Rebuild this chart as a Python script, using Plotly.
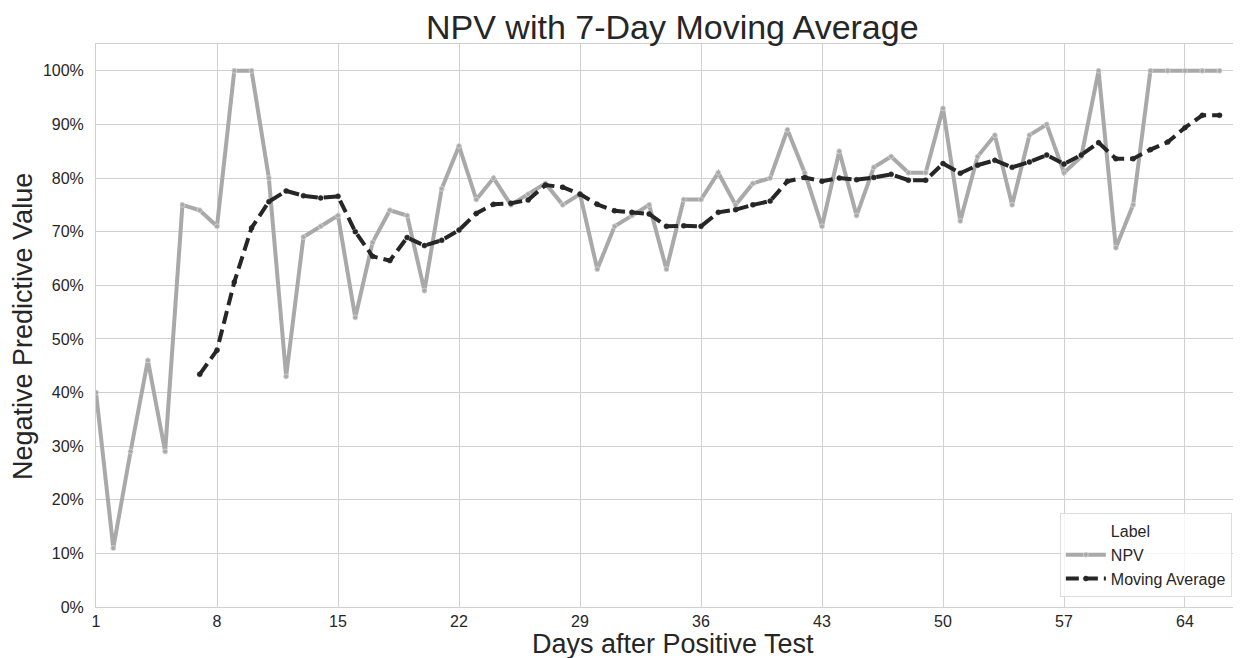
import plotly.graph_objects as go

days = list(range(1, 67))
npv = [40, 11, 29, 46, 29, 75, 74, 71, 100, 100,
       80, 43, 69, 71, 73, 54, 68, 74, 73, 59,
       78, 86, 76, 80, 75, 77, 79, 75, 77, 63,
       71, 73, 75, 63, 76, 76, 81, 75, 79, 80,
       89, 81, 71, 85, 73, 82, 84, 81, 81, 93,
       72, 84, 88, 75, 88, 90, 81, 84, 100, 67,
       75, 100, 100, 100, 100, 100]
ma_days = list(range(7, 67))
moving_avg = [43.4, 47.9, 60.6, 70.7, 75.6, 77.6, 76.7, 76.3, 76.6, 70.0,
              65.4, 64.6, 68.9, 67.4, 68.4, 70.3, 73.4, 75.1, 75.3, 75.9,
              78.7, 78.3, 77.0, 75.1, 73.9, 73.6, 73.3, 71.0, 71.1, 71.0,
              73.6, 74.1, 75.0, 75.7, 79.4, 80.1, 79.4, 80.0, 79.7, 80.1,
              80.7, 79.6, 79.6, 82.7, 80.9, 82.4, 83.3, 82.0, 83.0, 84.3,
              82.6, 84.3, 86.6, 83.6, 83.6, 85.3, 86.7, 89.4, 91.7, 91.7]
x_ticks = [1, 8, 15, 22, 29, 36, 43, 50, 57, 64]
y_ticks = [0, 10, 20, 30, 40, 50, 60, 70, 80, 90, 100]
y_tick_labels = ["0%", "10%", "20%", "30%", "40%", "50%",
                 "60%", "70%", "80%", "90%", "100%"]

FONT = "Liberation Sans, Arial, sans-serif"
TXT = "#262626"
GRID = "#d0d0d0"

fig = go.Figure()
fig.add_trace(go.Scatter(x=[None], y=[None], mode="lines", name="Label",
                         line=dict(width=0, color="rgba(0,0,0,0)"),
                         hoverinfo="skip"))
fig.add_trace(go.Scatter(
    x=days, y=npv, mode="lines+markers", name="NPV",
    line=dict(color="#a9a9a9", width=4),
    marker=dict(size=5, color="#a9a9a9", line=dict(color="#d8d8d8", width=0.8)),
))
fig.add_trace(go.Scatter(
    x=ma_days, y=moving_avg, mode="lines+markers", name="Moving Average",
    line=dict(color="#262626", width=4, dash="13px,6px"),
    marker=dict(size=5, color="#262626", line=dict(color="#262626", width=0.5)),
))

# The page body adds an 8px offset; work in page pixels and convert.
OFF = 8
W, H = 1241 - OFF, 658 - OFF
PL, PT, PB, PR = 96, 44, 607, 1241  # plot area edges in page pixels
L, T = PL - OFF, PT - OFF
B = H - (PB - OFF)
R = W - (PR - OFF)
pw, ph = W - L - R, H - T - B


def px_x(p):
    return (p - PL) / pw


def px_y(p):
    return (PB - p) / ph


fig.update_layout(
    width=W, height=H,
    margin=dict(l=L, r=R, t=T, b=B, autoexpand=False),
    plot_bgcolor="white", paper_bgcolor="white",
    font=dict(family=FONT, color=TXT, size=16),
    showlegend=True,
    legend=dict(
        x=0.992, xanchor="right", y=px_y(597), yanchor="bottom",
        bgcolor="rgba(255,255,255,0.8)", bordercolor="#dddddd", borderwidth=1,
        font=dict(size=16, color=TXT, family=FONT),
        itemwidth=40, tracegroupgap=0,
    ),
    xaxis=dict(
        range=[1, 67.24], tickvals=x_ticks, ticktext=[str(v) for v in x_ticks],
        showgrid=True, gridcolor=GRID, gridwidth=1,
        showline=True, linecolor=GRID, linewidth=1, mirror=True,
        zeroline=False, ticks="", tickfont=dict(size=16, color=TXT),
        ticklabelstandoff=0,
    ),
    yaxis=dict(
        range=[0, 105], tickvals=y_ticks, ticktext=y_tick_labels,
        showgrid=True, gridcolor=GRID, gridwidth=1,
        showline=True, linecolor=GRID, linewidth=1, mirror=False,
        zeroline=False, ticks="", tickfont=dict(size=16, color=TXT),
        ticklabelstandoff=8,
    ),
    annotations=[
        dict(text="NPV with 7-Day Moving Average", x=px_x(672), y=px_y(27),
             xref="paper", yref="paper", xanchor="center", yanchor="middle",
             showarrow=False, font=dict(size=34, color=TXT, family=FONT)),
        dict(text="Days after Positive Test", x=px_x(673), y=px_y(644),
             xref="paper", yref="paper", xanchor="center", yanchor="middle",
             showarrow=False, font=dict(size=27, color=TXT, family=FONT)),
        dict(text="Negative Predictive Value", x=px_x(23), y=px_y(327),
             xref="paper", yref="paper", xanchor="center", yanchor="middle",
             textangle=-90, showarrow=False,
             font=dict(size=27, color=TXT, family=FONT)),
    ],
)

fig.write_html("out.html")
